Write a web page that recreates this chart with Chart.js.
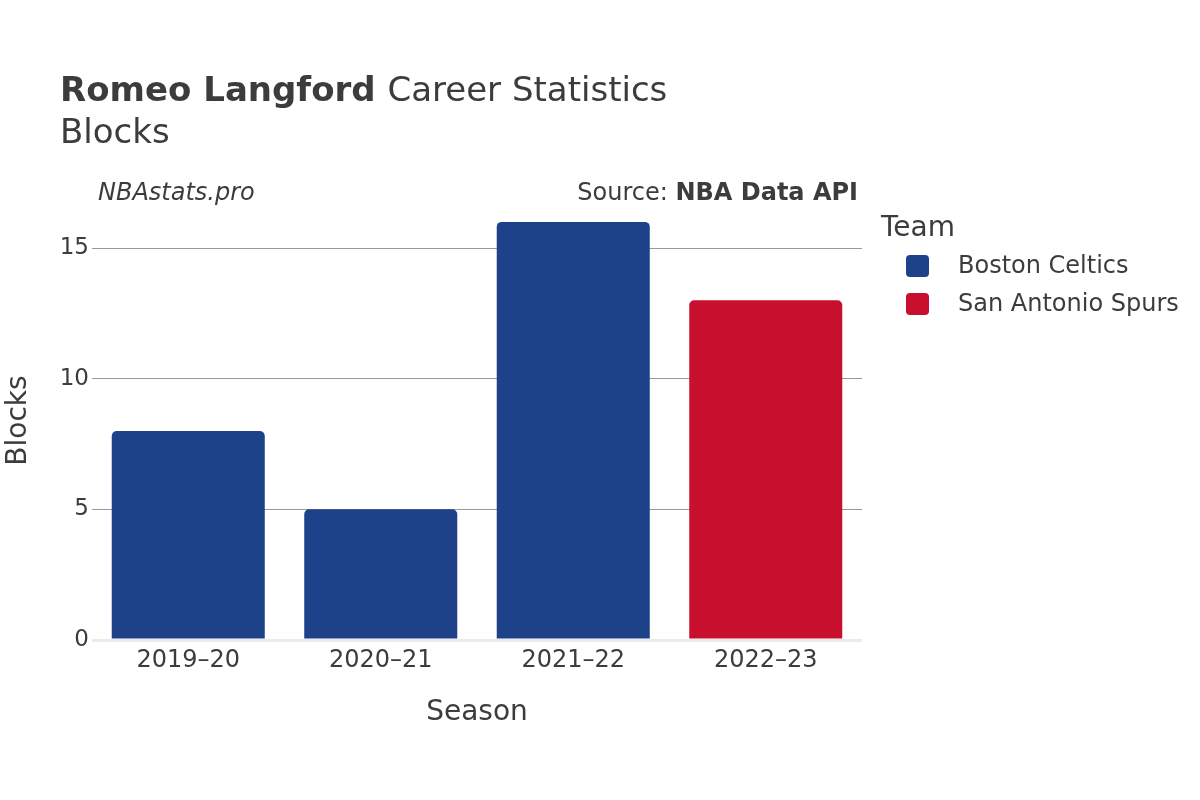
<!DOCTYPE html>
<html><head><meta charset="utf-8">
<script src="https://cdn.jsdelivr.net/npm/chart.js@4"></script>
<style>html,body{margin:0;padding:0;background:#fff}canvas{display:block}</style>
</head><body>
<canvas id="c" width="1200" height="800"></canvas>
<script>
const seasons = ["2019–20", "2020–21", "2021–22", "2022–23"];
const celticsBlocks = [8, 5, 16, null];
const spursBlocks = [null, null, null, 13];
const teams = ["Boston Celtics", "San Antonio Spurs"];
const teamColors = ["#1d428a", "#c8102e"];
const yTicks = [0, 5, 10, 15];

const FONT = "'DejaVu Sans', sans-serif";
const TXT = "#3c3c3c";

const overlay = {
  id: 'overlay',
  afterDraw(chart) {
    const ctx = chart.ctx;
    ctx.save();
    ctx.fillStyle = TXT;
    ctx.textBaseline = 'alphabetic';
    ctx.textAlign = 'left';
    ctx.font = "bold 34px " + FONT;
    const t1 = "Romeo Langford";
    ctx.fillText(t1, 60, 101);
    const w1 = ctx.measureText(t1 + " ").width;
    ctx.font = "34px " + FONT;
    ctx.fillText("Career Statistics", 60 + w1, 101);
    ctx.fillText("Blocks", 60, 143);
    ctx.font = "italic 24px " + FONT;
    ctx.fillText("NBAstats.pro", 98, 200);
    ctx.textAlign = 'right';
    ctx.font = "bold 24px " + FONT;
    const bw = ctx.measureText("NBA Data API").width;
    ctx.fillText("NBA Data API", 858, 200);
    ctx.font = "24px " + FONT;
    ctx.fillText("Source: ", 858 - bw, 200);
    // legend
    ctx.textAlign = 'left';
    ctx.font = "28px " + FONT;
    ctx.fillText("Team", 881, 236);
    ctx.font = "24px " + FONT;
    ctx.textBaseline = 'middle';
    teams.forEach((t, i) => {
      const cy = 266 + i * 38;
      ctx.fillStyle = teamColors[i];
      ctx.beginPath();
      ctx.roundRect(906, cy - 11, 23, 22, 4);
      ctx.fill();
      ctx.fillStyle = TXT;
      ctx.fillText(t, 958, cy + 1);
    });
    ctx.restore();
  }
};

new Chart(document.getElementById('c'), {
  type: 'bar',
  data: {
    labels: seasons,
    datasets: [
      { label: teams[0], data: celticsBlocks, backgroundColor: teamColors[0], grouped: false,
        barPercentage: 0.795, categoryPercentage: 1, borderRadius: {topLeft: 5, topRight: 5}, borderSkipped: 'bottom' },
      { label: teams[1], data: spursBlocks, backgroundColor: teamColors[1], grouped: false,
        barPercentage: 0.795, categoryPercentage: 1, borderRadius: {topLeft: 5, topRight: 5}, borderSkipped: 'bottom' }
    ]
  },
  options: {
    responsive: false,
    animation: false,
    layout: { padding: { top: 201, right: 338, bottom: 60, left: 0 } },
    plugins: { legend: { display: false }, tooltip: { enabled: false }, title: { display: false } },
    scales: {
      x: {
        grid: { display: false, drawTicks: false },
        border: { display: false },
        ticks: { color: TXT, font: { family: FONT, size: 24 }, padding: 6 },
        title: { display: true, text: "Season", color: TXT, font: { family: FONT, size: 28 }, padding: { top: 9, bottom: 10 } },
        afterFit(s) { s.height = 100; }
      },
      y: {
        min: 0, max: 16.8,
        afterBuildTicks(s) { s.ticks = yTicks.map(v => ({ value: v })); },
        grid: {
          color: (c) => c.tick && c.tick.value === 0 ? "#ebebeb" : "#999",
          lineWidth: (c) => c.tick && c.tick.value === 0 ? 3 : 1,
          drawTicks: false
        },
        border: { display: false },
        ticks: { color: TXT, font: { family: FONT, size: 23 }, padding: 3 },
        title: { display: true, text: "Blocks", color: TXT, font: { family: FONT, size: 28 }, padding: { top: 2, bottom: 0 } },
        afterFit(s) { s.width = 92; }
      }
    }
  },
  plugins: [overlay]
});
</script>
</body></html>
